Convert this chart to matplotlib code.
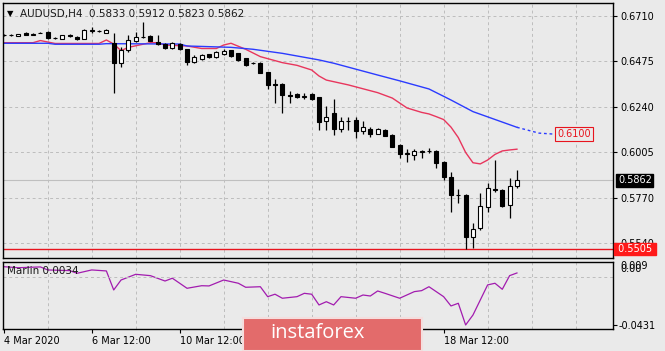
import matplotlib
matplotlib.use("Agg")
import matplotlib.pyplot as plt
from matplotlib.patches import Rectangle

# AUDUSD H4 candles (open, high, low, close)
opens = [0.6612, 0.6611, 0.6607, 0.6620, 0.6614, 0.6623, 0.6629, 0.6595, 0.6591, 0.6610,
         0.6603, 0.6591, 0.6633, 0.6634, 0.6624, 0.6572, 0.6466, 0.6534, 0.6582, 0.6603,
         0.6607, 0.6577, 0.6565, 0.6543, 0.6567, 0.6538, 0.6474, 0.6487, 0.6512, 0.6497,
         0.6514, 0.6532, 0.6517, 0.6491, 0.6467, 0.6467, 0.6420, 0.6359, 0.6359, 0.6300,
         0.6307, 0.6292, 0.6307, 0.6290, 0.6170, 0.6208, 0.6126, 0.6165, 0.6173, 0.6118,
         0.6126, 0.6101, 0.6121, 0.6095, 0.6044, 0.5999, 0.5992, 0.6010, 0.6012, 0.6013,
         0.5955, 0.5880, 0.5787, 0.5786, 0.5568, 0.5613, 0.5725, 0.5815, 0.5811, 0.5734,
         0.5833]
highs = [0.6617, 0.6617, 0.6617, 0.6625, 0.6620, 0.6626, 0.6632, 0.6601, 0.6614, 0.6615,
         0.6606, 0.6641, 0.6652, 0.6637, 0.6642, 0.6621, 0.6551, 0.6612, 0.6629, 0.6681,
         0.6610, 0.6612, 0.6570, 0.6573, 0.6572, 0.6540, 0.6509, 0.6514, 0.6516, 0.6530,
         0.6537, 0.6536, 0.6520, 0.6494, 0.6472, 0.6470, 0.6422, 0.6385, 0.6362, 0.6324,
         0.6312, 0.6312, 0.6310, 0.6292, 0.6245, 0.6281, 0.6187, 0.6190, 0.6188, 0.6165,
         0.6137, 0.6130, 0.6124, 0.6098, 0.6047, 0.6023, 0.6023, 0.6016, 0.6027, 0.6016,
         0.5963, 0.5906, 0.5817, 0.5788, 0.5639, 0.5794, 0.5846, 0.5966, 0.5815, 0.5872,
         0.5912]
lows = [0.6607, 0.6607, 0.6605, 0.6612, 0.6610, 0.6620, 0.6593, 0.6590, 0.6589, 0.6601,
        0.6584, 0.6589, 0.6624, 0.6625, 0.6620, 0.6314, 0.6448, 0.6526, 0.6578, 0.6595,
        0.6580, 0.6560, 0.6540, 0.6540, 0.6535, 0.6457, 0.6467, 0.6483, 0.6493, 0.6493,
        0.6510, 0.6500, 0.6478, 0.6452, 0.6462, 0.6413, 0.6333, 0.6261, 0.6211, 0.6261,
        0.6285, 0.6281, 0.6276, 0.6121, 0.6121, 0.6095, 0.6113, 0.6121, 0.6080, 0.6101,
        0.6087, 0.6098, 0.6089, 0.6032, 0.5975, 0.5958, 0.5966, 0.5975, 0.6002, 0.5924,
        0.5863, 0.5699, 0.5744, 0.5505, 0.5510, 0.5605, 0.5700, 0.5803, 0.5725, 0.5665,
        0.5823]
closes = [0.6611, 0.6612, 0.6615, 0.6614, 0.6615, 0.6624, 0.6595, 0.6596, 0.6612, 0.6607,
          0.6593, 0.6638, 0.6635, 0.6630, 0.6638, 0.6466, 0.6534, 0.6586, 0.6603, 0.6600,
          0.6583, 0.6565, 0.6543, 0.6569, 0.6538, 0.6474, 0.6497, 0.6509, 0.6497, 0.6522,
          0.6531, 0.6503, 0.6483, 0.6457, 0.6465, 0.6416, 0.6354, 0.6356, 0.6302, 0.6298,
          0.6290, 0.6297, 0.6281, 0.6164, 0.6187, 0.6126, 0.6168, 0.6166, 0.6118, 0.6135,
          0.6101, 0.6126, 0.6092, 0.6035, 0.5997, 0.6001, 0.6014, 0.6011, 0.6013, 0.5953,
          0.5877, 0.5785, 0.5786, 0.5570, 0.5608, 0.5729, 0.5820, 0.5812, 0.5729, 0.5832,
          0.5862]

# moving averages (candle index, price)
red_idx = [0, 4, 5, 7, 13, 14, 15, 16, 17, 18, 20, 21, 22, 25, 27, 29, 30, 31, 33, 35,
           38, 40, 42, 43, 44, 47, 51, 53, 55, 57, 58, 59, 60, 61, 62, 63, 64, 65, 66,
           67, 68, 69, 70]
red_ma = [0.6572, 0.6572, 0.6583, 0.6568, 0.6568, 0.6586, 0.6565, 0.6531, 0.6548, 0.6556,
          0.6572, 0.6572, 0.6560, 0.6555, 0.6542, 0.6542, 0.6560, 0.6569, 0.6538, 0.6500,
          0.6469, 0.6455, 0.6431, 0.6400, 0.6379, 0.6354, 0.6314, 0.6286, 0.6235, 0.6212,
          0.6204, 0.6190, 0.6175, 0.6136, 0.6082, 0.6005, 0.5952, 0.5946, 0.5966, 0.5995,
          0.6013, 0.6018, 0.6022]
blue_idx = [0, 6, 7, 13, 14, 24, 25, 31, 34, 38, 43, 45, 51, 54, 58, 61, 64, 68, 70]
blue_ma = [0.6569, 0.6569, 0.6564, 0.6564, 0.6567, 0.6565, 0.6555, 0.6548, 0.6538, 0.6517,
           0.6483, 0.6466, 0.6405, 0.6375, 0.6333, 0.6276, 0.6216, 0.6162, 0.6135]
blue_fc_idx = [70, 73, 75]
blue_fc = [0.6135, 0.6105, 0.6100]

# Marlin oscillator
marlin_idx = [0, 2, 5, 6, 9, 10, 12, 14, 15, 16, 18, 20, 22, 23, 25, 27, 28, 30, 32, 33,
              35, 36, 37, 38, 40, 41, 42, 43, 44, 45, 46, 48, 49, 50, 51, 52, 54, 56, 57,
              58, 60, 61, 62, 63, 64, 66, 67, 68, 69, 70]
marlin = [0.0090, 0.0081, 0.0088, 0.0061, 0.0055, 0.0031, 0.0061, 0.0052, -0.0118, -0.0029,
          0.0022, 0.0010, -0.0038, -0.0013, -0.0103, -0.0080, -0.0082, -0.0029, -0.0058, -0.0094,
          -0.0089, -0.0178, -0.0156, -0.0192, -0.0178, -0.0148, -0.0156, -0.0252, -0.0223, -0.0252,
          -0.0178, -0.0192, -0.0163, -0.0172, -0.0127, -0.0148, -0.0192, -0.0133, -0.0124,
          -0.0089, -0.0178, -0.0261, -0.0237, -0.0431, -0.0342, -0.0073, -0.0058, -0.0112, 0.0010,
          0.0034]

price_ticks = [0.6710, 0.6475, 0.6240, 0.6005, 0.5770, 0.5540]
# 12 Mar / 16 Mar labels sit under the watermark in the original, so only the visible ones
date_pos = [0, 12, 24, 60]
date_labels = ["4 Mar 2020", "6 Mar 12:00", "10 Mar 12:00", "18 Mar 12:00"]
last_price = 0.5862
low_level = 0.5505
target = 0.6100

bg = "#eaeaea"
grid_kw = dict(color="#bdbdbd", linestyle=(0, (3, 3)), linewidth=0.7)
plt.rcParams["font.family"] = "DejaVu Sans"

fig = plt.figure(figsize=(6.65, 3.51), dpi=100, facecolor=bg)
ax = fig.add_axes([3 / 665, 1 - 258 / 351, 610 / 665, 255 / 351], facecolor=bg)
axi = fig.add_axes([3 / 665, 1 - 329 / 351, 610 / 665, 67 / 351], facecolor=bg)

# candles
n = len(closes)
idx = list(range(n))
ax.vlines(idx, lows, highs, color="black", linewidth=0.9, zorder=3)
for i in idx:
    o, c = opens[i], closes[i]
    up = c >= o
    ax.bar(i, abs(c - o), bottom=min(o, c), width=0.55,
           facecolor="white" if up else "black", edgecolor="black",
           linewidth=0.8, zorder=4)

ax.plot(red_idx, red_ma, color="#e8365d", linewidth=1.0, zorder=2)
ax.plot(blue_idx, blue_ma, color="#2b3bff", linewidth=1.0, zorder=2)
ax.plot(blue_fc_idx, blue_fc, color="#2b3bff", linewidth=1.0, linestyle=(0, (2, 2)), zorder=2)

ax.axhline(last_price, color="#bfbfbf", linewidth=0.8, zorder=1)
ax.axhline(low_level, color="#e8141e", linewidth=1.0, zorder=2)

ax.set_xlim(-0.1, 83.1)
ax.set_ylim(0.5460, 0.6777)
ax.set_xticks(range(6, 84, 6))
ax.tick_params(axis="x", length=0, labelbottom=False)
ax.yaxis.tick_right()
ax.set_yticks(price_ticks)
ax.set_yticklabels([f"{v:.4f}" for v in price_ticks])
ax.tick_params(axis="y", length=3, width=0.8, labelsize=7, pad=2)
ax.grid(True, **grid_kw)
ax.set_axisbelow(True)
for s in ax.spines.values():
    s.set_color("black")
    s.set_linewidth(1.0)

ax.text(75.5, target, "0.6100", ha="left", va="center", fontsize=7, color="#e8141e",
        bbox=dict(boxstyle="square,pad=0.2", fc=bg, ec="#e8141e", lw=0.8), zorder=5)
ax.text(1.008, last_price, "0.5862", transform=ax.get_yaxis_transform(), ha="left",
        va="center", fontsize=7, color="white", clip_on=False,
        bbox=dict(boxstyle="square,pad=0.15", fc="black", ec="black"))
ax.text(1.003, low_level, " 0.5505 ", transform=ax.get_yaxis_transform(), ha="left",
        va="center", fontsize=7, color="white", clip_on=False,
        bbox=dict(boxstyle="square,pad=0.12", fc="#ff1a1a", ec="#ff1a1a"))

# title
fig.text(7 / 665, 1 - 14 / 351, "\u25bc", fontsize=6, va="center", ha="left")
fig.text(20 / 665, 1 - 14 / 351, "AUDUSD,H4  0.5833 0.5912 0.5823 0.5862",
         fontsize=7.5, va="center", ha="left", color="#1a1a1a")

# indicator panel
axi.plot(marlin_idx, marlin, color="#a21caf", linewidth=0.9)
axi.axhline(0.0, **grid_kw)
axi.set_xlim(-0.1, 83.1)
axi.set_ylim(-0.0467, 0.0132)
axi.set_xticks(range(6, 84, 6), minor=True)
axi.grid(True, which="minor", axis="x", **grid_kw)
axi.set_xticks(date_pos)
axi.set_xticklabels(date_labels)
for lbl in axi.get_xticklabels():
    lbl.set_ha("left")
axi.tick_params(axis="x", which="major", length=3, labelsize=7, pad=2)
axi.tick_params(axis="x", which="minor", length=0)
axi.yaxis.tick_right()
axi.set_yticks([-0.0431])
axi.set_yticklabels(["-0.0431"])
axi.tick_params(axis="y", length=3, labelsize=7, pad=1)
# the two top labels overlap in the original too
axi.text(1.012, 0.0092, "0.009", transform=axi.get_yaxis_transform(), fontsize=7,
         va="center", ha="left", clip_on=False)
axi.text(1.012, 0.0068, "0.00", transform=axi.get_yaxis_transform(), fontsize=7,
         va="center", ha="left", clip_on=False)
axi.text(0.006, 0.86, "Marlin 0.0034", transform=axi.transAxes, fontsize=7.5,
         va="center", ha="left", color="#1a1a1a")
for s in axi.spines.values():
    s.set_color("black")
    s.set_linewidth(1.0)

# watermark
fig.patches.append(Rectangle((243 / 665, 0), 179 / 665, 33 / 351, transform=fig.transFigure,
                             fc="#e36b6b", ec="#f4dede", lw=1.5, zorder=10))
fig.text(318 / 665, 1 - 333 / 351, "instaforex", fontsize=14.5, color="white",
         ha="center", va="center", family="Open Sans", zorder=11)

fig.savefig("out.png", dpi=100, facecolor=bg)
